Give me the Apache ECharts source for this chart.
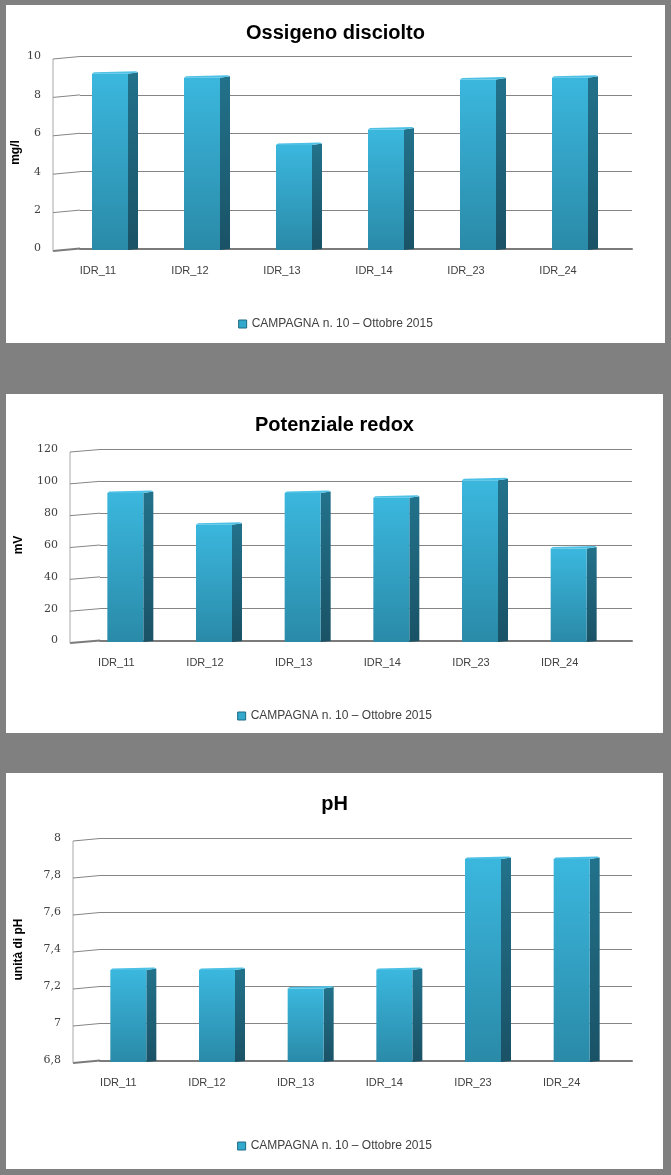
<!DOCTYPE html>
<html><head><meta charset="utf-8">
<script src="https://cdn.jsdelivr.net/npm/echarts@6/dist/echarts.min.js"></script>
<style>
html,body{margin:0;padding:0;background:#808080;width:671px;height:1175px;overflow:hidden;}
.panel{position:absolute;background:#fff;}
</style></head><body>
<div id="c1" class="panel" style="left:6px;top:5px;width:659px;height:338px"></div>
<div id="c2" class="panel" style="left:6px;top:394px;width:657px;height:339px"></div>
<div id="c3" class="panel" style="left:6px;top:773px;width:657px;height:396px"></div>
<script>
const categories = ['IDR_11', 'IDR_12', 'IDR_13', 'IDR_14', 'IDR_23', 'IDR_24'];
const seriesName = 'CAMPAGNA n. 10 \u2013 Ottobre 2015';
const oxygenValues = [9.2, 9.0, 5.5, 6.3, 8.9, 9.0];
const redoxValues = [94, 74, 94, 91, 102, 59];
const phValues = [7.3, 7.3, 7.2, 7.3, 7.9, 7.9];
const oxygenTicks = [0, 2, 4, 6, 8, 10];
const redoxTicks = [0, 20, 40, 60, 80, 100, 120];
const phTicks = [6.8, 7, 7.2, 7.4, 7.6, 7.8, 8];

function buildChart(el, cfg) {
  const chart = echarts.init(el, null, { renderer: 'canvas' });
  const barData = cfg.values.map((v, i) => [i, v]);
  const wallData = cfg.ticks.map(t => [0, t]);
  const min = cfg.ticks[0], max = cfg.ticks[cfg.ticks.length - 1];
  chart.setOption({
    animation: false,
    title: {
      text: cfg.title, left: 'center', top: cfg.titleTop,
      textStyle: { fontFamily: 'Liberation Sans', fontWeight: 'bold', fontSize: 20, color: '#000' }
    },
    legend: {
      data: [{ name: seriesName, icon: 'rect', itemStyle: { color: '#33a9cd', borderColor: '#1d6a82', borderWidth: 1 } }],
      left: 'center', top: cfg.legendTop, itemWidth: 8, itemHeight: 8, selectedMode: false,
      textStyle: { fontFamily: 'Liberation Sans', fontSize: 12, color: '#404040' }
    },
    grid: { left: cfg.grid[0], top: cfg.grid[1], right: cfg.grid[2], bottom: cfg.grid[3], outerBoundsMode: 'none' },
    xAxis: {
      type: 'category', data: categories,
      axisTick: { show: false },
      axisLine: { show: true, lineStyle: { color: '#7b7b7b', width: 2 } },
      axisLabel: {
        margin: cfg.xLabelMargin, color: '#404040', fontFamily: 'Liberation Sans', fontSize: 11,
        padding: [0, cfg.xLabelShift * 2, 0, 0]
      }
    },
    yAxis: {
      type: 'value', min: min, max: max, interval: cfg.interval,
      name: cfg.yName, nameLocation: 'middle', nameRotate: 90, nameGap: cfg.yNameGap,
      nameMoveOverlap: false,
      nameTextStyle: { fontFamily: 'Liberation Sans', fontWeight: 'bold', fontSize: 12, color: '#000' },
      axisLine: { show: false }, axisTick: { show: false },
      splitLine: { show: true, lineStyle: { color: '#858585', width: 1 } },
      axisLabel: {
        margin: cfg.yLabelMargin, padding: [5, 0, 0, 0], color: '#404040',
        fontFamily: 'DejaVu Serif', fontSize: 11,
        formatter: v => String(Number(v.toFixed(1))).replace('.', ',')
      }
    },
    series: [
      {
        type: 'custom', name: 'wall', silent: true, data: wallData, z: 1,
        renderItem: function (params, api) {
          const cs = params.coordSys;
          const t = api.value(1);
          const p = api.coord([0, t]);
          const gx = cs.x, fx = gx - cfg.skew;
          const isBase = params.dataIndex === 0;
          const children = [{
            type: 'line', shape: { x1: fx, y1: p[1] + 2.5, x2: gx, y2: p[1] },
            style: { stroke: isBase ? '#7b7b7b' : '#858585', lineWidth: isBase ? 2 : 1 }
          }];
          if (isBase) {
            const top = api.coord([0, max]);
            children.push({
              type: 'line', shape: { x1: fx, y1: p[1] + 2.5, x2: fx, y2: top[1] + 2.5 },
              style: { stroke: '#a8a8a8', lineWidth: 1 }
            });
          }
          return { type: 'group', children: children };
        }
      },
      {
        type: 'custom', name: seriesName, data: barData, z: 2,
        itemStyle: { color: '#33a9cd' },
        renderItem: function (params, api) {
          const top = api.coord([api.value(0), api.value(1)]);
          const base = api.coord([api.value(0), min]);
          const cx = top[0] + cfg.barOffset;
          const hw = 18, depth = 10;
          const ty = top[1] + 2, by = base[1] + 1.5;
          const xl = cx - hw, xr = cx + hw;
          return {
            type: 'group', children: [
              {
                type: 'polygon', shape: { points: [[xr, ty], [xr + depth, ty - 1.5], [xr + depth, by - 1], [xr, by]] },
                style: { fill: new echarts.graphic.LinearGradient(0, 0, 0, 1, [{ offset: 0, color: '#22728b' }, { offset: 1, color: '#1a5266' }]) }
              },
              {
                type: 'rect', shape: { x: xl, y: ty, width: xr - xl, height: by - ty },
                style: { fill: new echarts.graphic.LinearGradient(0, 0, 0, 1, [{ offset: 0, color: '#3bb7de' }, { offset: 1, color: '#2a8aa8' }]) }
              },
              {
                type: 'polygon', shape: { points: [[xl, ty], [xl + 2, ty - 1.5], [xr + depth - 2, ty - 2.5], [xr + depth, ty - 1.5], [xr, ty]] },
                style: { fill: '#4cc1e5' }
              }
            ]
          };
        }
      }
    ]
  });
}

buildChart(document.getElementById('c1'), {
  title: 'Ossigeno disciolto', yName: 'mg/l', values: oxygenValues, ticks: oxygenTicks, interval: 2,
  grid: [74, 51.5, 33, 94.5], skew: 27, barOffset: -16, titleTop: 13, legendTop: 308,
  xLabelMargin: 17, xLabelShift: 28, yLabelMargin: 39, yNameGap: 58
});
buildChart(document.getElementById('c2'), {
  title: 'Potenziale redox', yName: 'mV', values: redoxValues, ticks: redoxTicks, interval: 20,
  grid: [94, 55.5, 31, 92.5], skew: 30, barOffset: -19, titleTop: 16, legendTop: 311,
  xLabelMargin: 17, xLabelShift: 28, yLabelMargin: 42, yNameGap: 75
});
buildChart(document.getElementById('c3'), {
  title: 'pH', yName: 'unit\u00e0 di pH', values: phValues, ticks: phTicks, interval: 0.2,
  grid: [94, 65.5, 31, 108.5], skew: 27, barOffset: -16, titleTop: 16, legendTop: 362,
  xLabelMargin: 17, xLabelShift: 26, yLabelMargin: 39, yNameGap: 75
});
</script>
</body></html>
